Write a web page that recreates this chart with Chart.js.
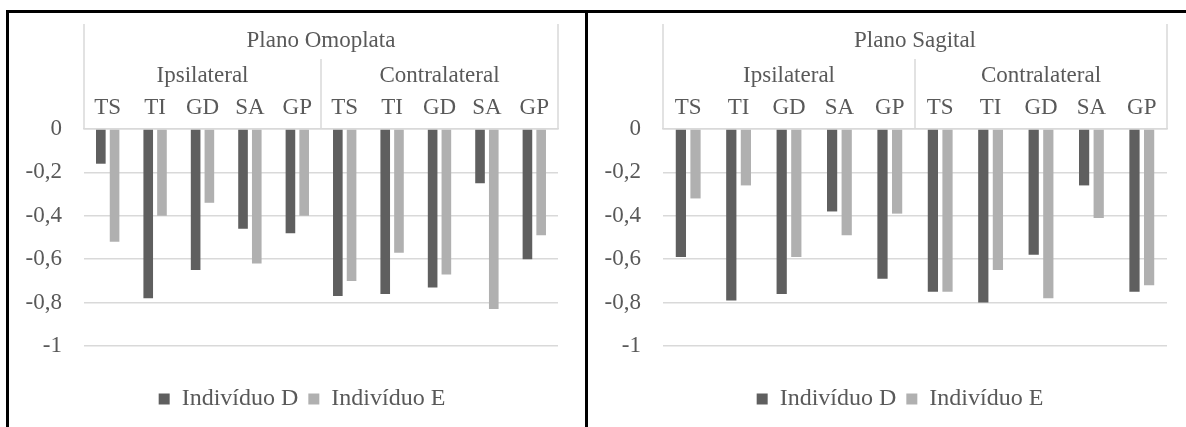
<!DOCTYPE html>
<html>
<head>
<meta charset="utf-8">
<script src="https://cdn.jsdelivr.net/npm/chart.js@4/dist/chart.umd.min.js"></script>
<style>
  body { margin: 0; background: #fff; width: 1186px; height: 427px; overflow: hidden; position: relative; }
  .panel { position: absolute; top: 10px; border-top: 3px solid #000; height: 500px; }
  #p1 { left: 6px; width: 576px; border-left: 3px solid #000; border-right: 3px solid #000; }
  #p2 { left: 588px; width: 620px; }
  canvas { position: absolute; left: 0; top: 0; }
</style>
</head>
<body>
<div class="panel" id="p1"><canvas id="c1" width="576" height="414"></canvas></div>
<div class="panel" id="p2"><canvas id="c2" width="598" height="414"></canvas></div>
<script>
const categories = ['TS', 'TI', 'GD', 'SA', 'GP', 'TS', 'TI', 'GD', 'SA', 'GP']
const groups = ['Ipsilateral', 'Contralateral']
const seriesNames = ['Indivíduo D', 'Indivíduo E']
const yTicks = [0, -0.2, -0.4, -0.6, -0.8, -1]

// Plano Omoplata
const omoplataD = [-0.16, -0.78, -0.65, -0.46, -0.48, -0.77, -0.76, -0.73, -0.25, -0.60]
const omoplataE = [-0.52, -0.40, -0.34, -0.62, -0.40, -0.70, -0.57, -0.67, -0.83, -0.49]
// Plano Sagital
const sagitalD = [-0.59, -0.79, -0.76, -0.38, -0.69, -0.75, -0.80, -0.58, -0.26, -0.75]
const sagitalE = [-0.32, -0.26, -0.59, -0.49, -0.39, -0.75, -0.65, -0.78, -0.41, -0.72]

const FONT = "'Liberation Serif', 'Times New Roman', serif"
const TEXT = '#595959'
const GRID = '#d9d9d9'
const SIZE = 23

// draws the category box, group labels and title above the plot
const header = {
    id: 'header',
    afterDraw(chart) {
        const ctx = chart.ctx
        const a = chart.chartArea
        const x = chart.scales.x
        const title = chart.options.plugins.header.title
        ctx.save()
        ctx.strokeStyle = GRID
        ctx.lineWidth = 1.5
        ctx.beginPath()
        ctx.moveTo(a.left, a.top - 105); ctx.lineTo(a.left, a.top)
        ctx.moveTo(a.right, a.top - 105); ctx.lineTo(a.right, a.top)
        const mid = (x.getPixelForValue(4) + x.getPixelForValue(5)) / 2
        ctx.moveTo(mid, a.top - 70); ctx.lineTo(mid, a.top)
        ctx.stroke()
        ctx.fillStyle = TEXT
        ctx.font = SIZE + 'px ' + FONT
        ctx.textAlign = 'center'
        ctx.textBaseline = 'alphabetic'
        ctx.fillText(title, (a.left + a.right) / 2, a.top - 82)
        groups.forEach((g, i) => {
            const cx = (x.getPixelForValue(i * 5) + x.getPixelForValue(i * 5 + 4)) / 2
            ctx.fillText(g, cx, a.top - 47)
        })
        ctx.restore()
    }
}

function makeChart(id, title, dataD, dataE, padLeft, padRight) {
    return new Chart(document.getElementById(id), {
        type: 'bar',
        data: {
            labels: categories,
            datasets: [
                { label: seriesNames[0], data: dataD, backgroundColor: '#5f5f5f' },
                { label: seriesNames[1], data: dataE, backgroundColor: '#b0b0b0' }
            ]
        },
        plugins: [header],
        options: {
            responsive: false,
            animation: false,
            devicePixelRatio: 1,
            categoryPercentage: 0.58,
            barPercentage: 0.7,
            layout: { padding: { top: 76, right: padRight, left: padLeft, bottom: 6 } },
            plugins: {
                header: { title: title },
                tooltip: { enabled: false },
                legend: {
                    position: 'bottom',
                    labels: { boxWidth: 11, boxHeight: 11, padding: 10, color: TEXT, font: { family: FONT, size: 24 } }
                }
            },
            scales: {
                x: {
                    position: 'top',
                    grid: { display: false, drawTicks: false },
                    border: { display: true, color: GRID, width: 1.5 },
                    ticks: { color: TEXT, font: { family: FONT, size: SIZE }, padding: 7, maxRotation: 0, autoSkip: false },
                    afterFit: s => { s.height = 40 }
                },
                x2: {
                    position: 'bottom',
                    grid: { display: false },
                    border: { display: false },
                    ticks: { display: false },
                    afterFit: s => { s.height = 31 }
                },
                y: {
                    min: -1,
                    max: 0,
                    afterBuildTicks: s => { s.ticks = yTicks.map(v => ({ value: v })) },
                    grid: { color: GRID, lineWidth: 1.5, drawTicks: false },
                    border: { display: false },
                    ticks: {
                        color: TEXT,
                        padding: 22,
                        font: { family: FONT, size: SIZE },
                        callback: v => String(Number(v.toFixed(1))).replace('.', ',')
                    },
                    afterFit: s => {
                        s.width = 75 - padLeft
                        // labels are wider than the narrow axis box, so don't clip them
                        s._computeLabelArea = () => undefined
                    }
                }
            }
        }
    })
}

makeChart('c1', 'Plano Omoplata', omoplataD, omoplataE, 37, 27)
makeChart('c2', 'Plano Sagital', sagitalD, sagitalE, 45, 19)
</script>
</body>
</html>
